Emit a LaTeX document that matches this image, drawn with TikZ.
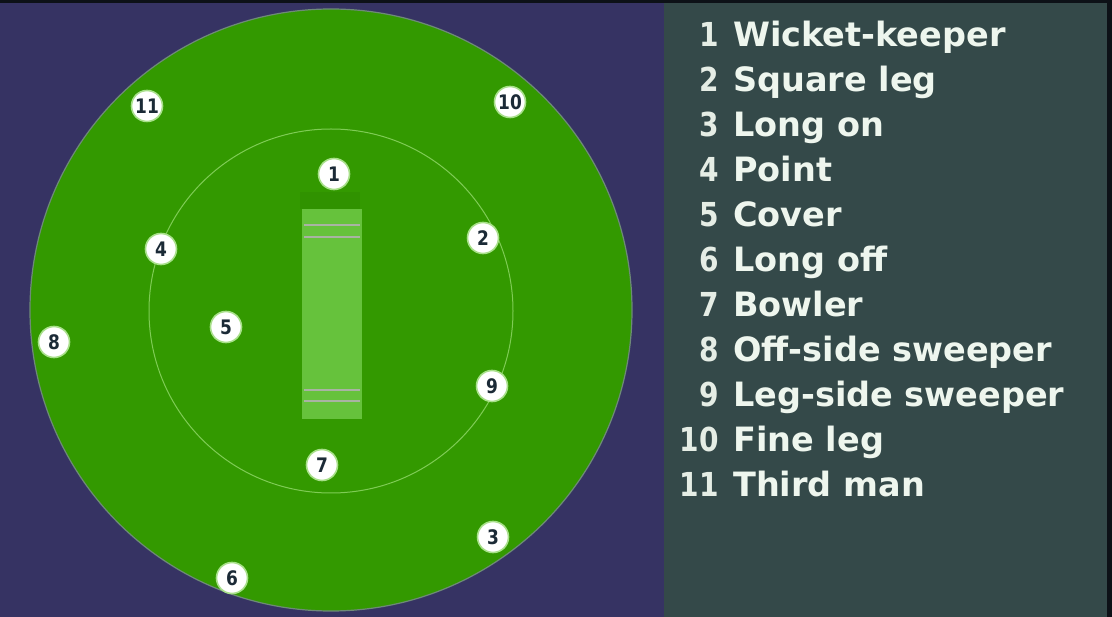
\documentclass[tikz,border=0pt]{standalone}
\usepackage{fontspec}
\setmainfont{DejaVu Sans}
\newfontfamily\condfont[FakeStretch=0.85]{DejaVu Sans}
\definecolor{bgblue}{HTML}{363363}
\definecolor{panel}{HTML}{344949}
\definecolor{edge}{HTML}{0D1117}
\definecolor{field}{HTML}{339900}
\definecolor{fieldedge}{HTML}{6E8A78}
\definecolor{pitch}{HTML}{66C23C}
\definecolor{pitchdark}{HTML}{309200}
\definecolor{crease}{HTML}{A9B3A4}
\definecolor{ring}{HTML}{7FCC55}
\definecolor{glow}{HTML}{A8E08A}
\definecolor{numdark}{HTML}{1B2A36}
\definecolor{labtext}{HTML}{EEF6EE}
\begin{document}
\begin{tikzpicture}[x=1pt,y=-1pt,
  fielder/.style={circle,fill=white,draw=glow,line width=1.6pt,minimum size=31pt,inner sep=0pt,
     font=\condfont\fontsize{20}{20}\bfseries\selectfont,text=numdark},
  legnum/.style={anchor=base east,text=labtext!92!gray,font=\condfont\fontsize{33}{33}\bfseries\selectfont,inner sep=0pt},
  legtext/.style={anchor=base west,text=labtext,font=\fontsize{33.5}{33.5}\bfseries\selectfont,inner sep=0pt}]
\useasboundingbox (0,0) rectangle (1112,617);
% backgrounds
\fill[bgblue] (0,0) rectangle (664,617);
\fill[panel] (664,0) rectangle (1112,617);
\fill[edge] (0,0) rectangle (1112,3);
\fill[edge] (1107,0) rectangle (1112,617);
% field
\coordinate (c) at (331,310);
\fill[field,draw=fieldedge,line width=1.2pt] (c) circle[radius=301];
\draw[ring,line width=1pt] (331,311) circle[radius=182];
% pitch
\fill[pitchdark] (300,192) rectangle (360,209);
\fill[pitch] (302,209) rectangle (362,419);
\foreach \yy in {225,237,390,401}
  \draw[crease,line width=2pt] (304,\yy) -- (360,\yy);
% fielders
\node[fielder] (f1) at (334,174) {1};
\node[fielder] (f2) at (483,238) {2};
\node[fielder] (f3) at (493,537) {3};
\node[fielder] (f4) at (161,249) {4};
\node[fielder] (f5) at (226,327) {5};
\node[fielder] (f6) at (232,578) {6};
\node[fielder] (f7) at (322,465) {7};
\node[fielder] (f8) at (54,342) {8};
\node[fielder] (f9) at (492,386) {9};
\node[fielder] (f10) at (510,102) {10};
\node[fielder] (f11) at (147,106) {11};
% legend
\foreach \n/\t [count=\i from 0] in {1/Wicket-keeper,2/Square leg,3/Long on,4/Point,5/Cover,6/Long off,7/Bowler,8/Off-side sweeper,9/Leg-side sweeper,10/Fine leg,11/Third man}{
  \node[legnum] (n\n) at (719,47+45*\i) {\n};
  \node[legtext] (t\n) at (733,47+45*\i) {\t};
}
\end{tikzpicture}
\end{document}
